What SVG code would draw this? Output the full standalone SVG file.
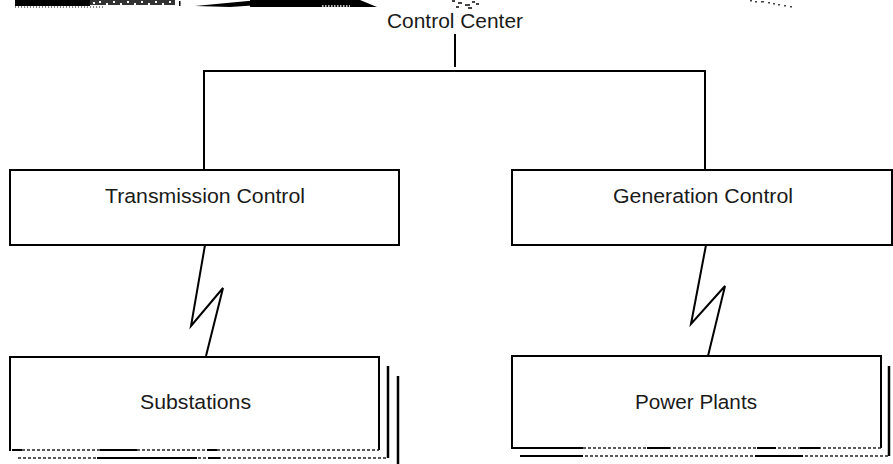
<svg xmlns="http://www.w3.org/2000/svg" width="893" height="464" viewBox="0 0 893 464">
<style>
  .lbl { font-family: "Liberation Sans", Arial, sans-serif; font-size: 20.5px; fill: #1a1a1a; }
  .box { fill: #ffffff; stroke: #000; stroke-width: 2; }
  .ln { fill: none; stroke: #000; stroke-width: 2; }
  .bolt { fill: none; stroke: #000; stroke-width: 2; stroke-linejoin: miter; }
  .dash { fill: none; stroke: #222; stroke-width: 1.5; stroke-dasharray: 3 2; }
  .solid { fill: none; stroke: #000; stroke-width: 2; }
  .shadow { fill: none; stroke: #000; stroke-width: 2.5; }
</style>
<rect x="0" y="0" width="893" height="464" fill="#ffffff"/>

<g id="scan-fragment">
  <rect x="15" y="0" width="75" height="6" fill="#000"/>
  <rect x="90" y="0" width="85" height="5" fill="#333"/>
  <g fill="#fff">
    <rect x="93" y="2" width="2" height="2"/><rect x="99" y="1" width="2" height="2"/>
    <rect x="106" y="3" width="2" height="2"/><rect x="113" y="1" width="2" height="2"/>
    <rect x="120" y="3" width="2" height="2"/><rect x="127" y="1" width="2" height="2"/>
    <rect x="134" y="3" width="2" height="2"/><rect x="141" y="1" width="2" height="2"/>
    <rect x="148" y="3" width="2" height="2"/><rect x="155" y="1" width="2" height="2"/>
    <rect x="162" y="3" width="2" height="2"/><rect x="169" y="1" width="2" height="2"/>
  </g>
  <line x1="15" y1="7" x2="105" y2="7" stroke="#000" stroke-width="1" stroke-dasharray="1 2"/>
  <rect x="179" y="1" width="1.5" height="5" fill="#000"/>
  <polygon points="195,6 258,0 258,5 230,7" fill="#000"/>
  <polygon points="250,0 360,0 377,7 250,7" fill="#000"/>
  <line x1="322" y1="6" x2="350" y2="6" stroke="#fff" stroke-width="1.5" stroke-dasharray="1.5 1.5"/>
  <g fill="#444">
    <rect x="452" y="0" width="3" height="2"/><rect x="458" y="2" width="4" height="2"/>
    <rect x="465" y="4" width="5" height="2"/><rect x="472" y="1" width="3" height="2"/>
    <rect x="456" y="6" width="3" height="2"/><rect x="468" y="7" width="4" height="2"/>
    <rect x="476" y="3" width="3" height="2"/>
    <rect x="750" y="0" width="2" height="1.5"/><rect x="755" y="1" width="2" height="1.5"/>
    <rect x="761" y="1" width="3" height="1.5"/><rect x="768" y="2" width="2" height="1.5"/>
    <rect x="773" y="3" width="2" height="1.5"/><rect x="778" y="4" width="2" height="1.5"/>
    <rect x="784" y="5" width="2" height="1.5"/><rect x="790" y="6" width="2" height="1.5"/>
  </g>
</g>

<g id="connectors">
  <line class="ln" x1="455" y1="34" x2="455" y2="67"/>
  <polyline class="ln" points="204,170 204,71 705,71 705,170"/>
  <polyline class="bolt" points="205,245 191,326 223,288 206,356"/>
  <polyline class="bolt" points="706,245 691,324 725,286 708,356"/>
</g>

<g id="control-center">
  <text class="lbl" x="387" y="28" textLength="136" lengthAdjust="spacingAndGlyphs">Control Center</text>
</g>

<g id="transmission-control">
  <rect class="box" x="10" y="170" width="389" height="75"/>
  <text class="lbl" x="105" y="203" textLength="200" lengthAdjust="spacingAndGlyphs">Transmission Control</text>
</g>

<g id="generation-control">
  <rect class="box" x="512" y="170" width="380" height="75"/>
  <text class="lbl" x="613" y="203" textLength="180" lengthAdjust="spacingAndGlyphs">Generation Control</text>
</g>

<g id="substations">
  <line class="shadow" x1="398" y1="376" x2="398" y2="464"/>
  <line class="shadow" x1="388" y1="366" x2="388" y2="458"/>
  <line class="dash" x1="18" y1="458" x2="388" y2="458"/>
  <line class="solid" x1="97" y1="458" x2="197" y2="458"/>
  <line class="solid" x1="208" y1="458" x2="220" y2="458"/>
  <polyline class="ln" points="10,451 10,357 379,357 379,450"/>
  <line class="dash" x1="12" y1="450" x2="379" y2="450"/>
  <line class="solid" x1="12" y1="450" x2="22" y2="450"/>
  <line class="solid" x1="100" y1="450" x2="137" y2="450"/>
  <line class="solid" x1="207" y1="450" x2="217" y2="450"/>
  <text class="lbl" x="140" y="409" textLength="111" lengthAdjust="spacingAndGlyphs">Substations</text>
</g>

<g id="power-plants">
  <line class="shadow" x1="889" y1="366" x2="889" y2="456"/>
  <line class="dash" x1="520" y1="456" x2="889" y2="456"/>
  <line class="solid" x1="520" y1="456" x2="583" y2="456"/>
  <line class="solid" x1="755" y1="456" x2="803" y2="456"/>
  <polyline class="ln" points="512,449 512,356 881,356 881,448"/>
  <line class="dash" x1="513" y1="448" x2="881" y2="448"/>
  <line class="solid" x1="513" y1="448" x2="583" y2="448"/>
  <line class="solid" x1="647" y1="448" x2="670" y2="448"/>
  <line class="solid" x1="757" y1="448" x2="776" y2="448"/>
  <line class="solid" x1="800" y1="448" x2="820" y2="448"/>
  <text class="lbl" x="635" y="409" textLength="122" lengthAdjust="spacingAndGlyphs">Power Plants</text>
</g>
</svg>
